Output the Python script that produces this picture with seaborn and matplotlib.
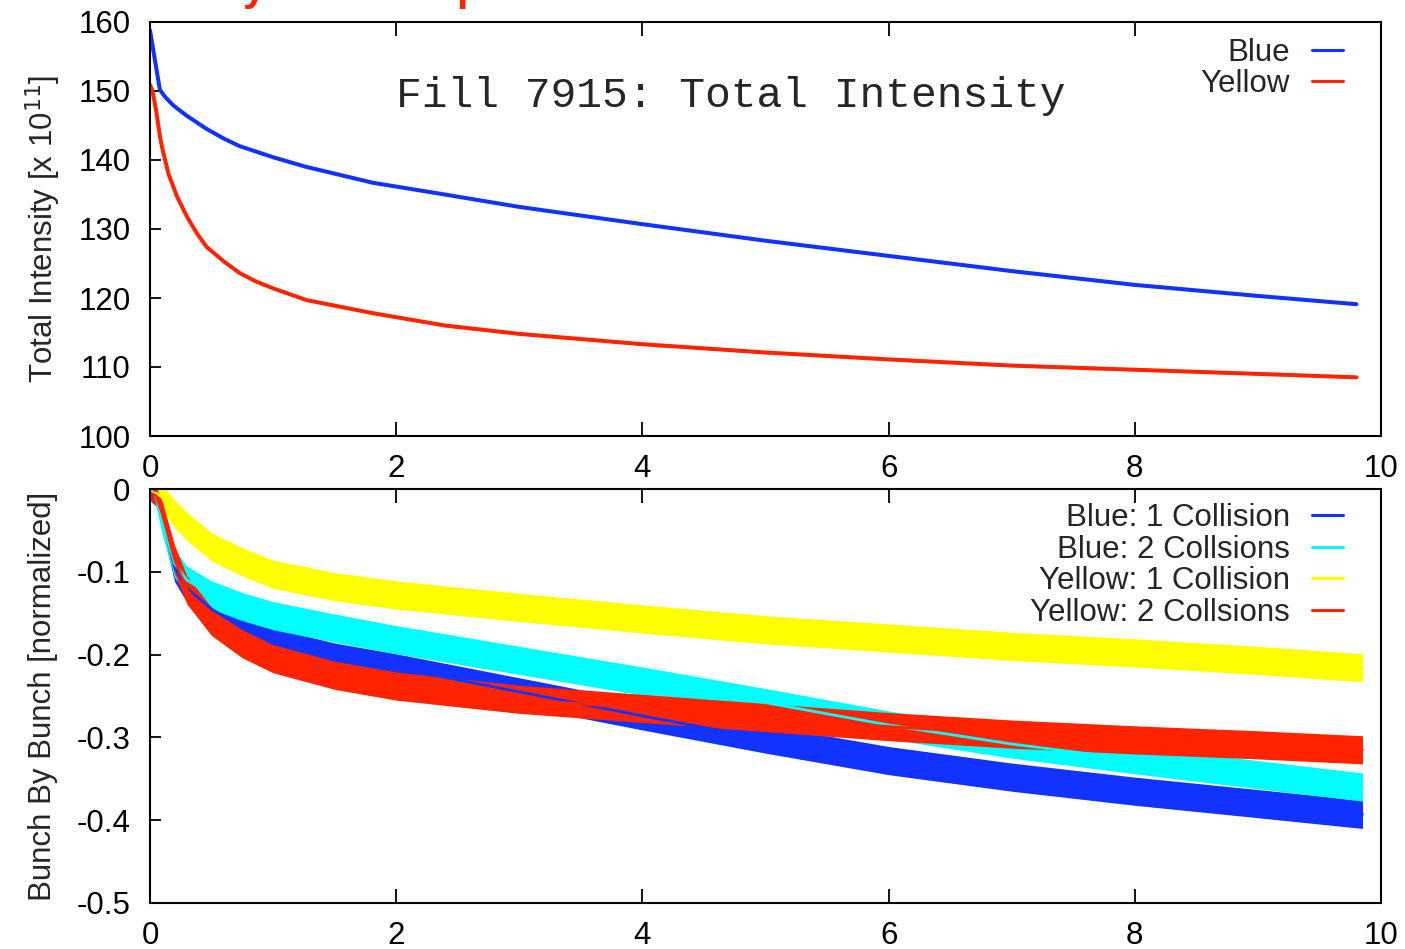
import numpy as np
import pandas as pd
import matplotlib
matplotlib.use("Agg")
import matplotlib.pyplot as plt
import seaborn as sns

# ---------------- data ----------------
# Top panel: total intensity [x 1e11] vs time [h]
blue_x = [0, 0.08, 0.12, 0.19, 0.3, 0.46, 0.6, 0.73, 1.0, 1.27, 1.81, 2.36, 3, 4, 5, 6, 7, 8, 9, 9.8]
blue_y = [158.8, 150.2, 149.2, 147.9, 146.4, 144.5, 143.1, 142.0, 140.4, 139.0, 136.7, 135.1, 133.2, 130.7, 128.3, 126.1, 123.9, 121.9, 120.3, 119.1]
yellow_x = [0, 0.02, 0.05, 0.08, 0.1, 0.15, 0.22, 0.3, 0.38, 0.46, 0.6, 0.73, 0.86, 1.0, 1.27, 1.81, 2.4, 3, 4, 5, 6, 7, 8, 9, 9.8]
yellow_y = [150.9, 150.0, 147.2, 143.5, 141.7, 138.0, 134.7, 131.8, 129.4, 127.4, 125.3, 123.6, 122.4, 121.4, 119.7, 117.8, 116.0, 114.8, 113.3, 112.1, 111.1, 110.2, 109.6, 109.0, 108.5]

# Bottom panel: bunch-by-bunch normalized change (band = observed noise spread)
bb_x = [0, 0.05, 0.1, 0.2, 0.3, 0.5, 0.75, 1.0, 1.5, 2, 3, 4, 5, 6, 7, 8, 9, 9.85]
b1_y = [-0.005, -0.01, -0.035, -0.095, -0.12, -0.145, -0.168, -0.185, -0.203, -0.216, -0.245, -0.274, -0.302, -0.328, -0.348, -0.365, -0.38, -0.393]
b2_y = [0.0, -0.01, -0.04, -0.09, -0.11, -0.128, -0.142, -0.153, -0.168, -0.182, -0.207, -0.232, -0.258, -0.285, -0.308, -0.327, -0.345, -0.36]
y1_y = [-0.005, -0.005, -0.01, -0.03, -0.045, -0.07, -0.088, -0.103, -0.118, -0.128, -0.143, -0.157, -0.17, -0.18, -0.19, -0.198, -0.207, -0.216]
y2_y = [-0.005, -0.008, -0.03, -0.085, -0.122, -0.16, -0.187, -0.205, -0.225, -0.238, -0.254, -0.265, -0.276, -0.287, -0.296, -0.303, -0.309, -0.315]
bb_spread = [0.009, 0.011, 0.015, 0.017, 0.017, 0.017, 0.017, 0.017, 0.017, 0.017, 0.017, 0.017, 0.017, 0.017, 0.017, 0.017, 0.017, 0.017]

top_labels = ["Blue", "Yellow"]
bot_labels = ["Blue: 1 Collision", "Blue: 2 Collsions", "Yellow: 1 Collision", "Yellow: 2 Collsions"]
x_ticks = [0, 2, 4, 6, 8, 10]
top_yticks = [100, 110, 120, 130, 140, 150, 160]
bot_yticks = [-0.5, -0.4, -0.3, -0.2, -0.1, 0]
bot_yticklabels = ["-0.5", "-0.4", "-0.3", "-0.2", "-0.1", "0"]

# ---------------- style ----------------
sns.set_style("white")
plt.rcParams["font.family"] = ["Liberation Sans", "DejaVu Sans"]
plt.rcParams["axes.linewidth"] = 1.5

C_BLUE = "#1232ff"
C_RED = "#ff2400"
C_CYAN = "#00ffff"
C_YELLOW = "#ffff00"

W, H = 1405, 949
fig = plt.figure(figsize=(W / 100, H / 100), dpi=100)
fig.patch.set_facecolor("white")

def ax_rect(l, t, r, b):
    return [l / W, 1 - b / H, (r - l) / W, (b - t) / H]

ax1 = fig.add_axes(ax_rect(150, 22, 1381, 436))
ax2 = fig.add_axes(ax_rect(150, 489, 1381, 903))

FS = 22.5

# ---------------- top panel ----------------
df_top = pd.concat([
    pd.DataFrame({"t": blue_x, "v": blue_y, "s": top_labels[0]}),
    pd.DataFrame({"t": yellow_x, "v": yellow_y, "s": top_labels[1]}),
])
sns.lineplot(data=df_top, x="t", y="v", hue="s", palette=[C_BLUE, C_RED],
             linewidth=2.9, ax=ax1, legend=True, estimator=None, sort=False)
ax1.set_xlim(0, 10)
ax1.set_ylim(100, 160)
ax1.set_xticks(x_ticks)
ax1.set_yticks(top_yticks)
ax1.set_xlabel("")
ax1.set_ylabel("Total Intensity [x 10$^{11}$]", fontsize=FS, labelpad=11)
ax1.text(2.0, 149.3, "Fill 7915: Total Intensity", family=["Liberation Mono", "DejaVu Sans Mono"],
         fontsize=31, va="center", ha="left")

# ---------------- bottom panel ----------------
rows = []
for lab, ys in zip(bot_labels, [b1_y, b2_y, y1_y, y2_y]):
    for xv, yv, sp in zip(bb_x, ys, bb_spread):
        rows.append({"t": xv, "v": yv - sp, "s": lab})
        rows.append({"t": xv, "v": yv + sp, "s": lab})
df_bot = pd.DataFrame(rows)
sns.lineplot(data=df_bot, x="t", y="v", hue="s", hue_order=bot_labels,
             palette=[C_BLUE, C_CYAN, C_YELLOW, C_RED],
             estimator="mean", errorbar=("pi", 100),
             err_kws={"alpha": 1.0, "linewidth": 0}, linewidth=2.0, ax=ax2, legend=True)
ax2.set_xlim(0, 10)
ax2.set_ylim(-0.5, 0)
ax2.set_xticks(x_ticks)
ax2.set_yticks(bot_yticks)
ax2.set_yticklabels(bot_yticklabels)
ax2.set_xlabel("")
ax2.set_ylabel("Bunch By Bunch [normalized]", fontsize=FS, labelpad=13)

for ax in (ax1, ax2):
    for sp in ax.spines.values():
        sp.set_visible(True)
        sp.set_color("black")
        sp.set_linewidth(1.5)
    ax.tick_params(axis="x", direction="in", top=True, bottom=True, length=10, width=1.3,
                   labelsize=FS, pad=13, colors="black")
    ax.tick_params(axis="y", direction="in", left=True, right=False, length=8, width=1.3,
                   labelsize=FS, pad=14, colors="black")
    ax.set_facecolor("white")
    ax.grid(False)

# legends: label text on the left, sample line on the right
def make_legend(ax, handles_labels, y_anchor):
    handles, labels = handles_labels
    leg = ax.legend(handles, labels, loc="upper right", bbox_to_anchor=(0.969, y_anchor),
                    frameon=False, markerfirst=False, fontsize=FS, handlelength=1.0,
                    handletextpad=0.7, labelspacing=0.05, borderpad=0, borderaxespad=0)
    for t in leg.get_texts():
        t.set_ha("right")
    for ln in leg.get_lines():
        ln.set_linewidth(2.2)
    return leg

h1, l1 = ax1.get_legend_handles_labels()
make_legend(ax1, (h1, l1), 0.962)
h2, l2 = ax2.get_legend_handles_labels()
make_legend(ax2, (h2, l2), 0.966)

# fragments of the slide title in red, cut off at the top edge (as in the reference)
fig.text(243 / W, 1.0, "y", color=C_RED, fontsize=30, fontweight="bold", ha="left", va="baseline")
fig.text(456 / W, 1.0, "p", color=C_RED, fontsize=30, fontweight="bold", ha="left", va="baseline")

fig.savefig("out.png", dpi=100, facecolor="white")
